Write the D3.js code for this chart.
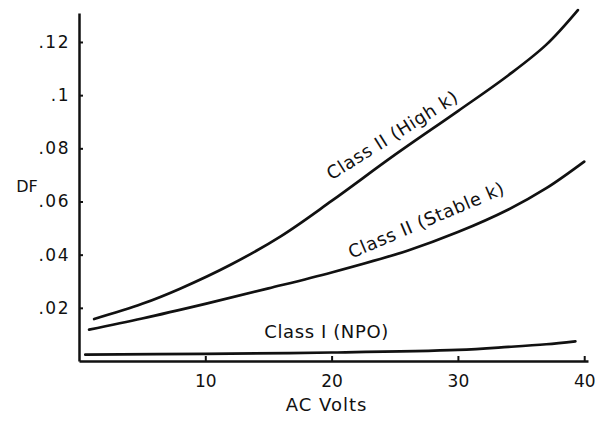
<!DOCTYPE html>
<html>
<head>
<meta charset="utf-8">
<script src="https://cdn.jsdelivr.net/npm/d3@7"></script>
<style>
  body { margin: 0; background: #fff; }
  text { font-family: 'DejaVu Sans', sans-serif; fill: #111; }
</style>
</head>
<body>
<div id="chart"></div>
<script>
// values
const voltsHighK = [1.2, 5, 8, 12, 16, 20, 25, 30, 34, 37, 39.5];
const dfHighK = [0.0158, 0.0215, 0.0272, 0.0362, 0.047, 0.0602, 0.0775, 0.094, 0.1075, 0.119, 0.132];

const voltsStableK = [0.8, 5, 10, 15, 20, 26, 30, 34, 37, 40];
const dfStableK = [0.0118, 0.016, 0.0215, 0.0273, 0.0333, 0.0415, 0.0485, 0.057, 0.065, 0.075];

const voltsNPO = [0.5, 10, 20, 30, 34, 37, 39.3];
const dfNPO = [0.0024, 0.0027, 0.0032, 0.0042, 0.0053, 0.0063, 0.0074];

const xTicks = [10, 20, 30, 40];
const yTicks = [0.02, 0.04, 0.06, 0.08, 0.1, 0.12];
const yTickLabels = ['.02', '.04', '.06', '.08', '.1', '.12'];

const seriesNames = ['Class II (High k)', 'Class II (Stable k)', 'Class I (NPO)'];
// where each curve name sits, in data units, and its tilt
const labelVolts = [24.8, 27.5, 19.6];
const labelDF = [0.085, 0.053, 0.011];
const labelAngle = [-32, -23, 0];

const margin = { top: 13, right: 7, bottom: 64, left: 79 };
const width = 595 - margin.left - margin.right;
const height = 425 - margin.top - margin.bottom;

const svg = d3
  .select('#chart')
  .append('svg')
  .attr('width', 595)
  .attr('height', 425)
  .append('g')
  .attr('transform', `translate(${margin.left}, ${margin.top})`);

const xScale = d3.scaleLinear().domain([0, 40.3]).range([0, width]);
const yScale = d3.scaleLinear().domain([0, 0.1309]).range([height, 0]);

const line = d3
  .line()
  .x((d) => xScale(d[0]))
  .y((d) => yScale(d[1]))
  .curve(d3.curveCatmullRom.alpha(0.5));

const series = [
  d3.zip(voltsHighK, dfHighK),
  d3.zip(voltsStableK, dfStableK),
  d3.zip(voltsNPO, dfNPO),
];

svg
  .selectAll('.curve')
  .data(series)
  .enter()
  .append('path')
  .attr('class', 'curve')
  .attr('fill', 'none')
  .attr('stroke', '#111')
  .attr('stroke-width', 2.7)
  .attr('stroke-linecap', 'round')
  .attr('d', line);

// axes
const xAxis = d3
  .axisBottom(xScale)
  .tickValues(xTicks)
  .tickSizeInner(-5)
  .tickSizeOuter(0)
  .tickPadding(14);

const yAxis = d3
  .axisLeft(yScale)
  .tickValues(yTicks)
  .tickFormat((d, i) => yTickLabels[i])
  .tickSizeInner(-4)
  .tickSizeOuter(0)
  .tickPadding(9);

const gx = svg
  .append('g')
  .attr('class', 'x-axis')
  .attr('transform', `translate(0, ${height})`)
  .call(xAxis);

const gy = svg.append('g').attr('class', 'y-axis').call(yAxis);

[gx, gy].forEach((g) => {
  g.select('.domain').attr('stroke', '#111').attr('stroke-width', 2.5);
  g.selectAll('.tick line').attr('stroke', '#111').attr('stroke-width', 2);
  g.selectAll('.tick text').style('font-size', '17px').attr('fill', '#111');
});

gy.selectAll('.tick text').style('letter-spacing', '1.5px');

// axis titles
svg
  .append('text')
  .attr('x', xScale(19.6))
  .attr('y', height + 50)
  .attr('text-anchor', 'middle')
  .style('font-size', '18px')
  .style('letter-spacing', '1px')
  .text('AC Volts');

svg
  .append('text')
  .attr('x', -52)
  .attr('y', yScale(0.0655))
  .attr('dy', '0.35em')
  .attr('text-anchor', 'middle')
  .style('font-size', '16px')
  .text('DF');

// curve names
svg
  .selectAll('.label')
  .data(seriesNames)
  .enter()
  .append('text')
  .attr('class', 'label')
  .attr('text-anchor', 'middle')
  .attr('dy', '0.35em')
  .style('font-size', '18px')
  .style('letter-spacing', '0.6px')
  .attr('transform', (d, i) => `translate(${xScale(labelVolts[i])}, ${yScale(labelDF[i])}) rotate(${labelAngle[i]})`)
  .text((d) => d);
</script>
</body>
</html>
